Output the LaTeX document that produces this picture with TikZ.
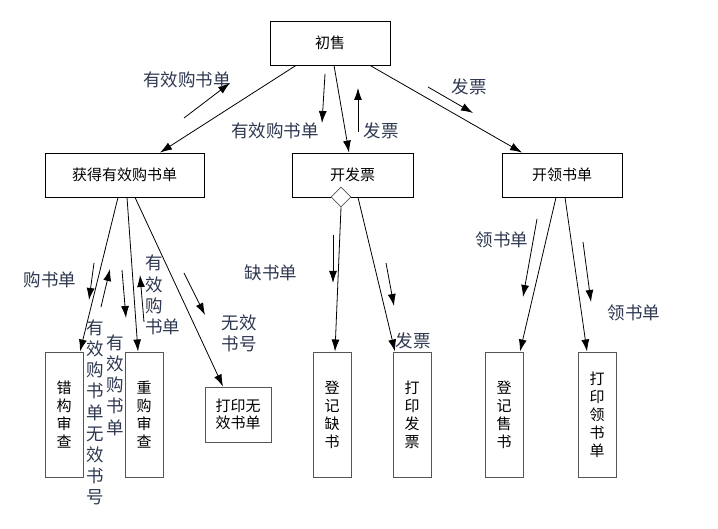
\documentclass[tikz,border=0pt]{standalone}
\usepackage{fontspec}
\setmainfont{Noto Sans CJK SC}
\usetikzlibrary{arrows.meta,shapes.geometric}
\definecolor{lblc}{HTML}{2E3850}
\definecolor{boxg}{HTML}{555555}
\begin{document}
\begin{tikzpicture}[x=1bp,y=-1bp]
\tikzset{
 proc/.style={draw=black, line width=0.8bp, inner sep=0pt, font=\fontsize{15bp}{18bp}\selectfont, align=center},
 vproc/.style={draw=boxg, line width=1bp, inner sep=0pt, minimum width=38bp, minimum height=125bp, font=\fontsize{15bp}{18bp}\selectfont, align=center},
 conn/.style={line width=0.8bp, -{Latex[length=12bp,width=8bp]}},
 flow/.style={line width=0.8bp, -{Latex[length=12bp,width=8bp]}},
 lbl/.style={text=lblc, font=\fontsize{17.5bp}{21.2bp}\selectfont, inner sep=0pt, align=center},
}
\useasboundingbox[fill=white] (0,0) rectangle (718,529);

% upper boxes
\node[proc, minimum width=120bp, minimum height=44bp] (top) at (330,43) {初售};
\node[proc, minimum width=159bp, minimum height=44bp] (get) at (124.5,175) {获得有效购书单};
\node[proc, minimum width=121bp, minimum height=44bp] (inv) at (352.5,175) {开发票};
\node[proc, minimum width=120bp, minimum height=44bp] (lead) at (562,175) {开领书单};
\node[draw=boxg, fill=white, diamond, inner sep=0pt, minimum width=20bp, minimum height=20bp, line width=0.8bp] (dia) at (341,197) {};

% lower boxes
\node[vproc] (b1) at (64,414.5) {错\\构\\审\\查};
\node[vproc] (b2) at (144,414.5) {重\\购\\审\\查};
\node[draw=boxg, line width=1bp, inner sep=0pt, minimum width=66bp, minimum height=55bp, font=\fontsize{15bp}{17bp}\selectfont, align=center] (b3) at (238,414.5) {打印无\\效书单};
\node[vproc] (b4) at (332,414.5) {登\\记\\缺\\书};
\node[vproc] (b5) at (412,414.5) {打\\印\\发\\票};
\node[vproc] (b6) at (504,414.5) {登\\记\\售\\书};
\node[vproc] (b7) at (597,414.5) {打\\印\\领\\书\\单};

% connectors
\draw[conn] ([xshift=-34bp]top.south) -- ([xshift=35.5bp]get.north);
\draw[conn] ([xshift=4bp]top.south) -- ([xshift=-3.5bp]inv.north);
\draw[conn] ([xshift=40bp]top.south) -- ([xshift=-40bp]lead.north);
\draw[conn] ([xshift=-6.5bp]get.south) -- ([xshift=16bp]b1.north);
\draw[conn] ([xshift=2.5bp]get.south) -- ([xshift=-6bp]b2.north);
\draw[conn] ([xshift=10.5bp]get.south) -- ([xshift=-15bp]b3.north);
\draw[conn] (dia.south) -- ([xshift=3bp]b4.north);
\draw[conn] ([xshift=5.5bp]inv.south) -- ([xshift=-17bp]b5.north);
\draw[conn] ([xshift=-6bp]lead.south) -- ([xshift=16bp]b6.north);
\draw[conn] ([xshift=3bp]lead.south) -- ([xshift=-10bp]b7.north);

% flow arrows
\draw[flow] (184,118) -- (230,83);
\draw[flow] (325,74) -- (322,123);
\draw[flow] (358,132) -- (358,88);
\draw[flow] (428,87) -- (473,113);
\draw[flow] (94,263) -- (89,300);
\draw[flow] (101,307) -- (110,269);
\draw[flow] (122,270) -- (126,318);
\draw[flow] (144,322) -- (140,275);
\draw[flow] (184,273) -- (205,315);
\draw[flow] (333,235) -- (333,283);
\draw[flow] (386,263) -- (394,306);
\draw[flow] (537,219) -- (523,297);
\draw[flow] (583,242) -- (591,302);

% labels
\node[lbl] (l1) at (187,80) {有效购书单};
\node[lbl] (l2) at (275,131) {有效购书单};
\node[lbl] (l3) at (381,131) {发票};
\node[lbl] (l4) at (469,87) {发票};
\node[lbl] (l5) at (50,280) {购书单};
\node[lbl] (l6) at (95,412.5) {有\\效\\购\\书\\单\\无\\效\\书\\号};
\node[lbl] (l7) at (115,385) {有\\效\\购\\书\\单};
\node[lbl, align=left, anchor=west] (l8) at (145,295) {有\\效\\购\\书单};
\node[lbl] (l9) at (239,333) {无效\\书号};
\node[lbl] (l10) at (271,273) {缺书单};
\node[lbl] (l11) at (413,341) {发票};
\node[lbl] (l12) at (502,240) {领书单};
\node[lbl] (l13) at (634,313) {领书单};
\end{tikzpicture}
\end{document}
